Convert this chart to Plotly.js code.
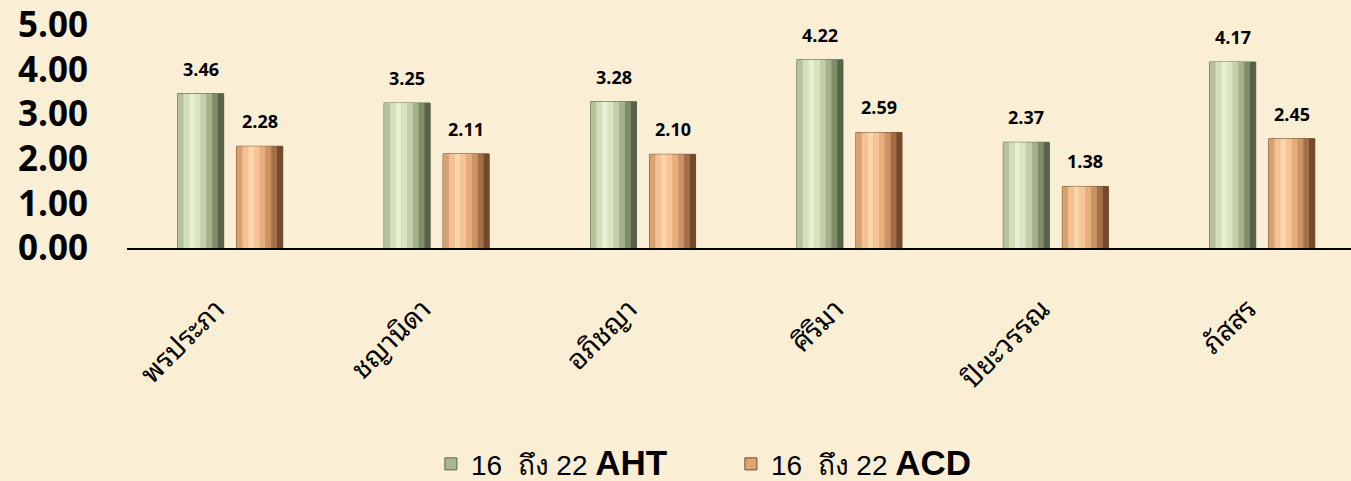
<!DOCTYPE html>
<html>
<head>
<meta charset="utf-8">
<script src="https://cdn.plot.ly/plotly-3.0.1.min.js"></script>
<style>
  html, body { margin: 0; padding: 0; background: #faefd5; }
  #chart { width: 1351px; height: 481px; }
</style>
</head>
<body>
<div id="chart"></div>
<script>
// ---- data ----
const categories = ["พรประภา", "ชญานิดา", "อภิชญา", "ศิริมา", "ปิยะวรรณ", "ภัสสร"];
const ahtValues = [3.46, 3.25, 3.28, 4.22, 2.37, 4.17];
const acdValues = [2.28, 2.11, 2.10, 2.59, 1.38, 2.45];
const seriesNames = ["16  ถึง 22 <span style=\"font-size:35px\"><b>AHT</b></span>",
                     "16  ถึง 22 <span style=\"font-size:35px\"><b>ACD</b></span>"];
const yTicks = [0, 1, 2, 3, 4, 5];

// ---- styles ----
const barW = 0.223;
const starts = [-0.2545, 0.0315];
const baseColors = ["#a9b892", "#e0a373"];
const shades = [
  ["#b4c39c", "#d2dfbb", "#e6f0d2", "#d8e4c2", "#c2d0aa", "#a4b28c", "#7f8c68", "#58624a"],
  ["#d9a070", "#f3c193", "#fcd6aa", "#f5c497", "#e6ad7d", "#cc9364", "#a26f48", "#74492c"]
];
const seriesVals = [ahtValues, acdValues];

const traces = [];
seriesVals.forEach((vals, s) => {
  traces.push({
    type: "bar", x: categories, y: vals, name: seriesNames[s],
    offset: starts[s], width: barW,
    marker: { color: baseColors[s], line: { color: shades[s][7], width: 1 } },
    hoverinfo: "skip", showlegend: true
  });
  const n = shades[s].length;
  const sw = barW / n;
  shades[s].forEach((c, i) => {
    traces.push({
      type: "bar", x: categories, y: vals,
      offset: starts[s] + i * sw, width: sw * 1.02,
      marker: { color: c, line: { width: 0 } },
      hoverinfo: "skip", showlegend: false
    });
  });
});

const annotations = [];
seriesVals.forEach((vals, s) => {
  vals.forEach((v, i) => {
    annotations.push({
      x: categories[i], y: v, xref: "x", yref: "y",
      text: v.toFixed(2), showarrow: false,
      xshift: (starts[s] + barW / 2) * 206.4, yanchor: "bottom", yshift: 11,
      font: { family: "Open Sans, Lato, sans-serif", size: 18, color: "#000", weight: "bold" }
    });
  });
});

const layout = {
  width: 1351, height: 481,
  paper_bgcolor: "#faefd5", plot_bgcolor: "rgba(0,0,0,0)",
  margin: { l: 127, r: 0, t: 25, b: 233 },
  barmode: "overlay",
  hovermode: false,
  showlegend: true,
  legend: {
    orientation: "h", xref: "container", yref: "container",
    x: 0.541, xanchor: "center", y: 0.035, yanchor: "middle",
    font: { family: "Liberation Sans, Arial, sans-serif", size: 28, color: "#000" },
    bgcolor: "rgba(0,0,0,0)", traceorder: "normal", entrywidth: 255
  },
  xaxis: {
    type: "category", range: [-0.5, 5.43],
    showline: true, linecolor: "#000", linewidth: 1.5,
    ticks: "", showgrid: false, zeroline: false,
    tickangle: -45, ticklabelstandoff: 32, ticklabelshift: -14,
    tickfont: { family: "Noto Sans Thai Looped, Loma, Garuda, Tahoma, Noto Sans Thai, sans-serif", size: 28, color: "#000" }
  },
  yaxis: {
    range: [0, 5], tickvals: yTicks, tickformat: ".2f",
    showline: false, showgrid: false, zeroline: false, ticks: "",
    ticklabelstandoff: 38,
    tickfont: { family: "Open Sans, Lato, sans-serif", size: 35, color: "#000", weight: "bold" }
  },
  annotations: annotations
};

Plotly.newPlot("chart", traces, layout, { displayModeBar: false, staticPlot: true });
</script>
</body>
</html>
